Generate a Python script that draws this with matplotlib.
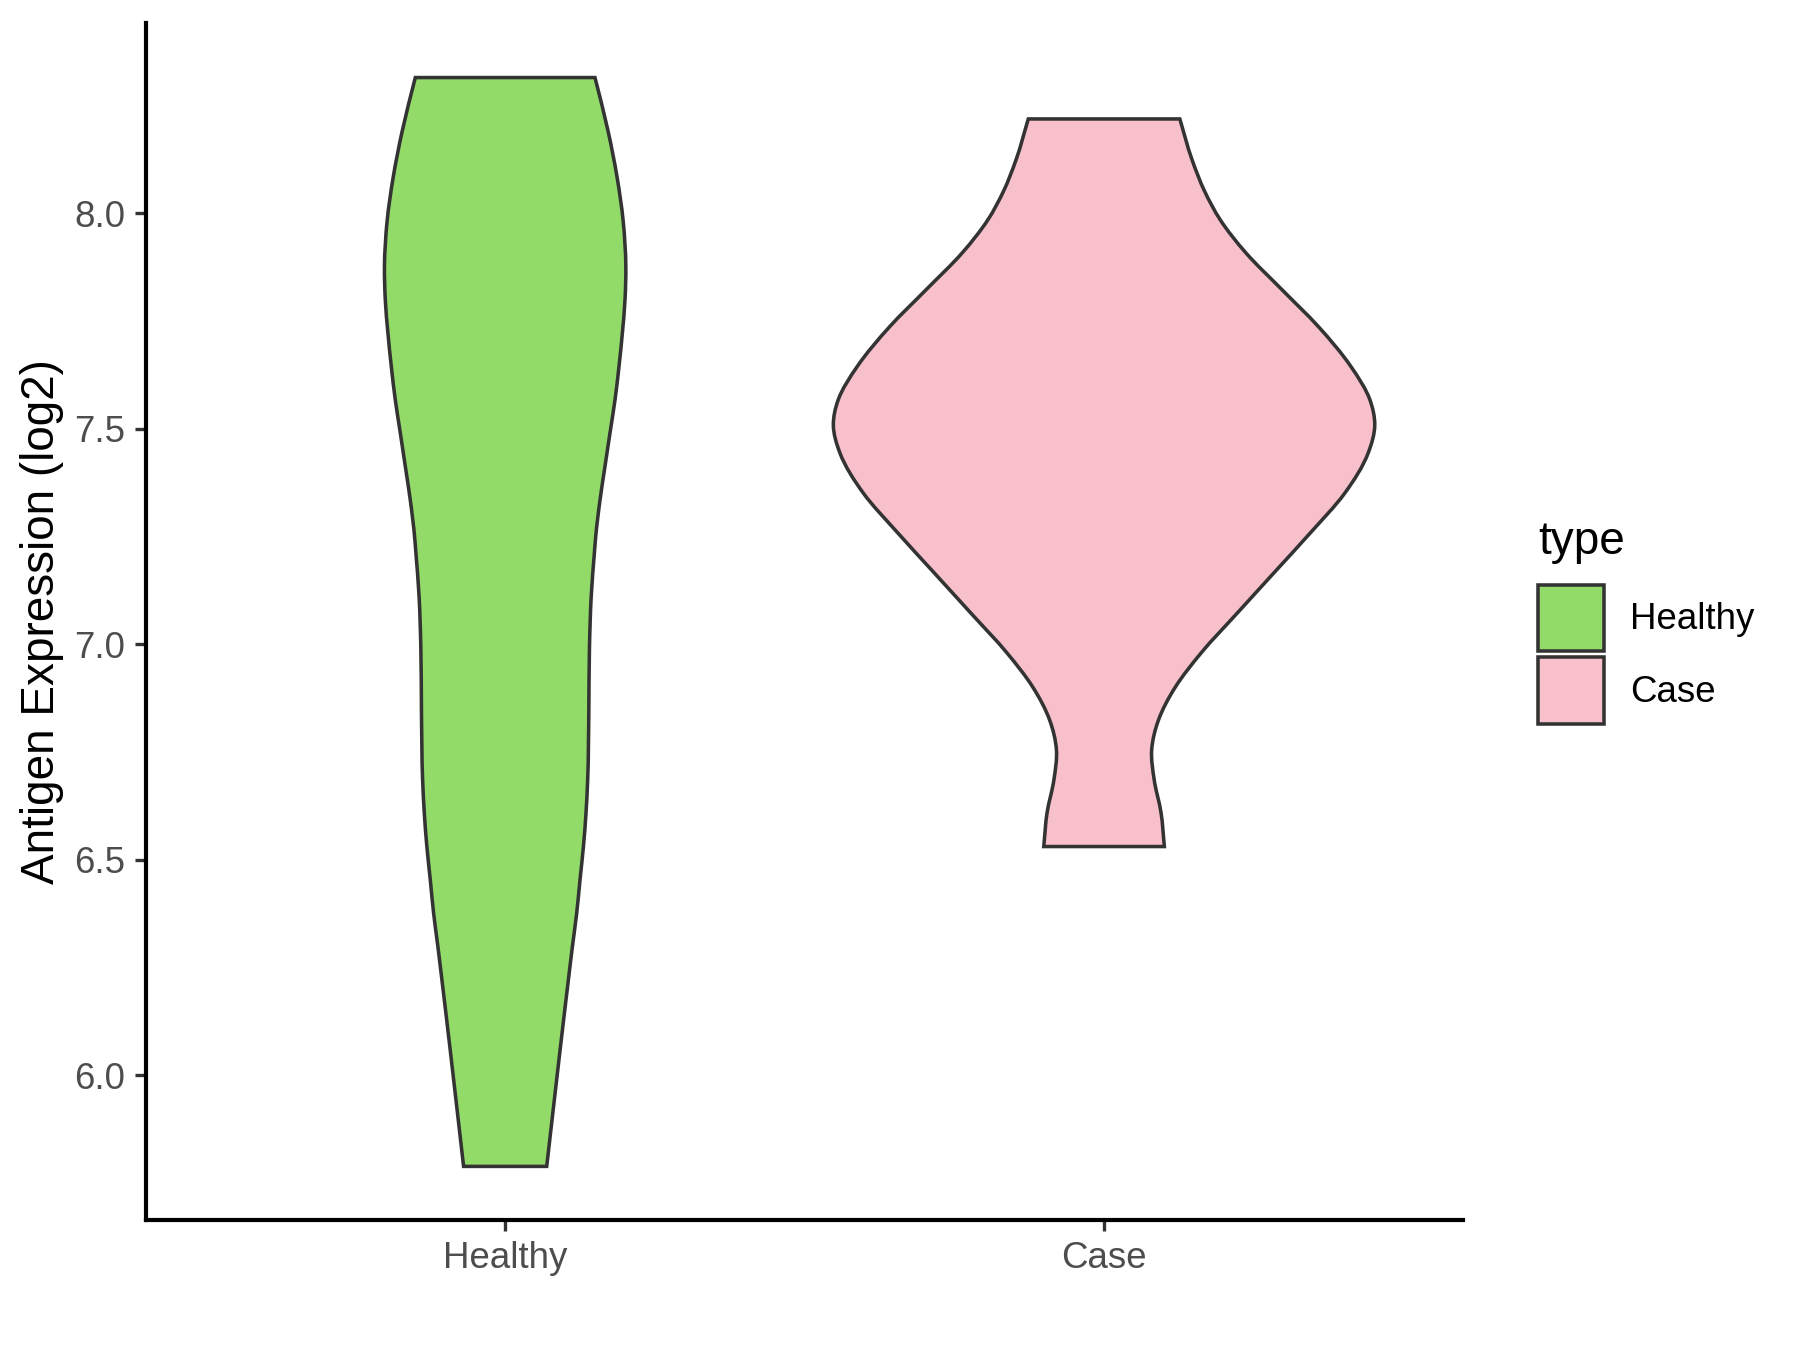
import numpy as np
import matplotlib
matplotlib.use("Agg")
import matplotlib.pyplot as plt
from matplotlib.path import Path
from matplotlib.patches import PathPatch, Patch

plt.rcParams['font.family'] = ['Liberation Sans', 'DejaVu Sans']

categories = ["Healthy", "Case"]
fill_colors = ["#93DB69", "#F8C0CB"]
edge_color = "#333333"

# violin outlines: value (log2) and half-width (x units)
healthy_y = [5.789, 5.960, 6.137, 6.222, 6.299, 6.377, 6.454, 6.531, 6.609, 6.686, 6.840,
             6.995, 7.111, 7.212, 7.250, 7.335, 7.413, 7.490, 7.567, 7.645, 7.722, 7.799,
             7.876, 7.983, 8.083, 8.190, 8.315]
healthy_hw = [0.0694, 0.0835, 0.0983, 0.1056, 0.1123, 0.1195, 0.1250, 0.1307, 0.1350, 0.1378, 0.1397,
              0.1408, 0.1437, 0.1490, 0.1512, 0.1584, 0.1667, 0.1750, 0.1834, 0.1901, 0.1957, 0.2001,
              0.2015, 0.1970, 0.1870, 0.1720, 0.1500]

case_y = [6.531, 6.609, 6.686, 6.755, 6.825, 6.902, 6.980, 7.072, 7.165, 7.258, 7.351,
          7.444, 7.509, 7.567, 7.645, 7.737, 7.823, 7.908, 7.985, 8.051, 8.124, 8.219]
case_hw = [0.1007, 0.0952, 0.0837, 0.0795, 0.091, 0.1195, 0.162, 0.222, 0.283, 0.344, 0.402,
           0.441, 0.452, 0.444, 0.412, 0.358, 0.297, 0.237, 0.194, 0.168, 0.147, 0.1265]

y_ticks = [6.0, 6.5, 7.0, 7.5, 8.0]
y_label = "Antigen Expression (log2)"
legend_title = "type"


def hermite_side(xs, ys):
    """Bezier segments of a smooth curve x(y) through the given points."""
    xs = np.asarray(xs, dtype=float)
    ys = np.asarray(ys, dtype=float)
    m = np.gradient(xs, ys)
    verts = []
    for i in range(len(ys) - 1):
        h = ys[i + 1] - ys[i]
        c1 = (xs[i] + m[i] * h / 3.0, ys[i] + h / 3.0)
        c2 = (xs[i + 1] - m[i + 1] * h / 3.0, ys[i + 1] - h / 3.0)
        verts += [c1, c2, (xs[i + 1], ys[i + 1])]
    return verts


def violin_path(center, ys, hws):
    ys = np.asarray(ys, dtype=float)
    hws = np.asarray(hws, dtype=float)
    rx = center + hws
    lx = (center - hws)[::-1]
    ly = ys[::-1]
    verts = [(rx[0], ys[0])]
    codes = [Path.MOVETO]
    seg = hermite_side(rx, ys)
    verts += seg
    codes += [Path.CURVE4] * len(seg)
    verts.append((lx[0], ly[0]))
    codes.append(Path.LINETO)
    seg = hermite_side(lx, ly)
    verts += seg
    codes += [Path.CURVE4] * len(seg)
    verts.append((rx[0], ys[0]))
    codes.append(Path.CLOSEPOLY)
    return Path(verts, codes)


fig = plt.figure(figsize=(6, 4.5), dpi=300)
ax = fig.add_axes([0.081, 0.0961, 0.732, 0.887])

profiles = [(healthy_y, healthy_hw), (case_y, case_hw)]
for i, (ys, hws) in enumerate(profiles):
    p = violin_path(i + 1, ys, hws)
    ax.add_patch(PathPatch(p, facecolor=fill_colors[i], edgecolor=edge_color,
                           linewidth=0.85, joinstyle='miter'))

ax.set_xlim(0.4, 2.6)
ax.set_ylim(5.664, 8.442)
ax.set_xticks([1, 2])
ax.set_xticklabels(categories)
ax.set_yticks(y_ticks)
ax.set_yticklabels([f"{t:.1f}" for t in y_ticks])
ax.set_ylabel(y_label, fontsize=11, color="black", labelpad=2.5)

for s in ["top", "right"]:
    ax.spines[s].set_visible(False)
for s in ["left", "bottom"]:
    ax.spines[s].set_linewidth(1.0)
    ax.spines[s].set_color("black")
ax.tick_params(axis='both', length=2.75, width=0.8, color="#333333",
               labelsize=8.8, labelcolor="#4D4D4D", pad=2.2)

handles = [Patch(facecolor=fill_colors[i], edgecolor=edge_color, linewidth=0.85,
                 label=categories[i]) for i in range(2)]
leg = fig.legend(handles=handles, title=legend_title, loc='upper left',
                 bbox_to_anchor=(0.8546, 0.615), frameon=False, fontsize=8.8,
                 title_fontsize=11, handlelength=1.8, handleheight=2.43,
                 handletextpad=0.7, labelspacing=0.15, borderpad=0,
                 borderaxespad=0, alignment='left')
leg._legend_box.sep = 5.0

fig.savefig("out.png", dpi=300)
